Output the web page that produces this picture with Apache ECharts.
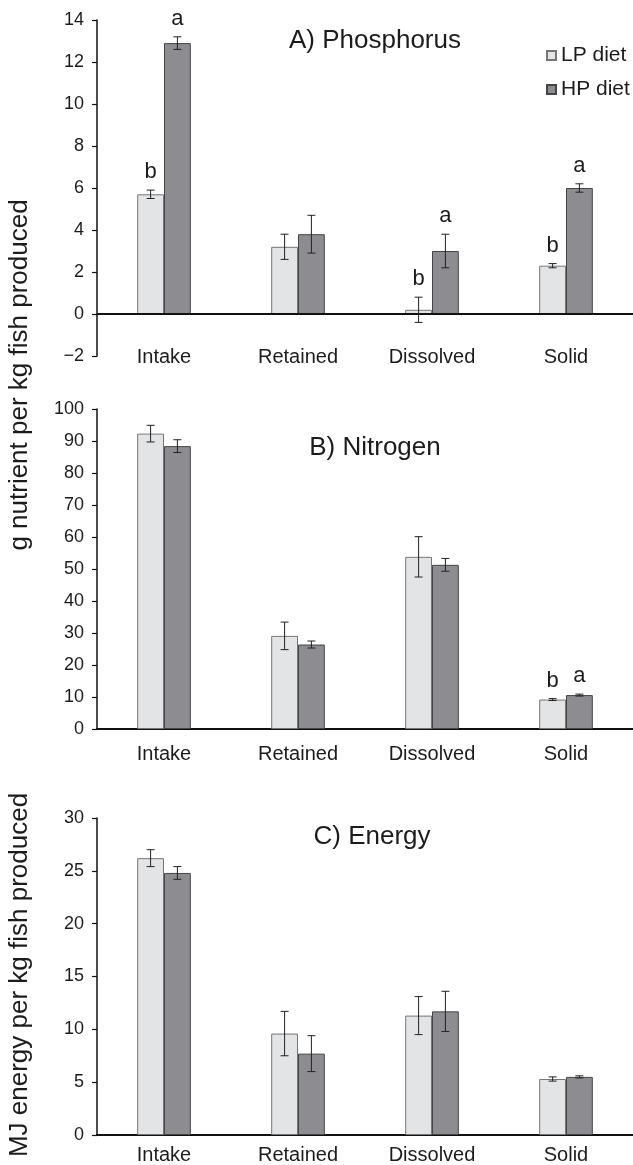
<!DOCTYPE html>
<html>
<head>
<meta charset="utf-8">
<script src="https://cdn.jsdelivr.net/npm/echarts@6/dist/echarts.min.js"></script>
<style>
html,body{margin:0;padding:0;background:#fff;}
#chart{width:633px;height:1165px;}
</style>
</head>
<body>
<div id="chart"></div>
<script>
var categories = ['Intake', 'Retained', 'Dissolved', 'Solid'];
var seriesNames = ['LP diet', 'HP diet'];

// A) Phosphorus
var pLP = [5.7, 3.2, 0.2, 2.3];
var pLPerr = [0.2, 0.6, 0.6, 0.1];
var pHP = [12.9, 3.8, 3.0, 6.0];
var pHPerr = [0.3, 0.9, 0.8, 0.2];
var pLPletters = ['b', '', 'b', 'b'];
var pHPletters = ['a', '', 'a', 'a'];

// B) Nitrogen
var nLP = [92.3, 29.1, 53.8, 9.2];
var nLPerr = [2.6, 4.3, 6.3, 0.3];
var nHP = [88.4, 26.4, 51.3, 10.6];
var nHPerr = [2.0, 1.1, 2.0, 0.3];
var nLPletters = ['', '', '', 'b'];
var nHPletters = ['', '', '', 'a'];

// C) Energy
var eLP = [26.2, 9.6, 11.3, 5.3];
var eLPerr = [0.8, 2.1, 1.8, 0.2];
var eHP = [24.8, 7.7, 11.7, 5.5];
var eHPerr = [0.6, 1.7, 1.9, 0.1];

var FONT = 'Liberation Sans, Arial, sans-serif';
var TXT = '#1c1c1c';
var LP_STYLE = {color: '#e3e4e6', borderColor: '#767676', borderWidth: 1};
var HP_STYLE = {color: '#8d8c91', borderColor: '#454545', borderWidth: 1};
var CAT_GAP = 0.6;

function errData(means, errs) {
  return means.map(function (m, i) { return [i, m - errs[i], m + errs[i]]; });
}

function errRender(side, letters) {
  return function (params, api) {
    var cat = api.value(0), lo = api.value(1), hi = api.value(2);
    var pHi = api.coord([cat, hi]);
    var pLo = api.coord([cat, lo]);
    var band = api.size([1, 0])[0];
    var bw = band * (1 - CAT_GAP) / 2;
    var x = pHi[0] + side * bw / 2;
    var cap = 4;
    var st = {stroke: '#222', lineWidth: 1};
    var children = [
      {type: 'line', shape: {x1: x, y1: pHi[1], x2: x, y2: pLo[1]}, style: st},
      {type: 'line', shape: {x1: x - cap, y1: pHi[1], x2: x + cap, y2: pHi[1]}, style: st},
      {type: 'line', shape: {x1: x - cap, y1: pLo[1], x2: x + cap, y2: pLo[1]}, style: st}
    ];
    var letter = letters ? letters[params.dataIndex] : '';
    if (letter) {
      children.push({
        type: 'text',
        style: {x: x, y: pHi[1] - 18, text: letter, fill: TXT,
                font: '22px ' + FONT, align: 'center', verticalAlign: 'middle'}
      });
    }
    return {type: 'group', children: children};
  };
}

var grids = [
  {left: 97, right: 0, top: 20, height: 336},
  {left: 97, right: 0, top: 409, height: 320},
  {left: 97, right: 0, top: 818, height: 319}
];
var labelMargins = [1, 25, 20];
var yRanges = [[-2, 14, 2], [0, 100, 10], [0, 30, 5]];

var xAxes = grids.map(function (g, i) {
  return {
    type: 'category', gridIndex: i, data: categories,
    axisLine: {show: i !== 0, onZero: false, lineStyle: {color: '#111', width: 2}},
    axisTick: {show: false},
    axisLabel: {color: TXT, fontSize: 20, fontFamily: FONT, margin: labelMargins[i], verticalAlign: 'middle'}
  };
});
var yAxes = grids.map(function (g, i) {
  return {
    type: 'value', gridIndex: i, min: yRanges[i][0], max: yRanges[i][1], interval: yRanges[i][2],
    axisLine: {show: true, lineStyle: {color: '#111', width: 1.5}},
    axisTick: {show: true, length: 5, lineStyle: {color: '#111', width: 1.2}},
    splitLine: {show: false},
    axisLabel: {color: TXT, fontSize: 18, fontFamily: FONT, margin: 13,
      formatter: function (v) { return v < 0 ? '\u2212' + Math.abs(v) : String(v); }}
  };
});

var panels = [
  [pLP, pLPerr, pHP, pHPerr, pLPletters, pHPletters],
  [nLP, nLPerr, nHP, nHPerr, nLPletters, nHPletters],
  [eLP, eLPerr, eHP, eHPerr, null, null]
];

var series = [];
panels.forEach(function (p, i) {
  var lpBar = {
    name: seriesNames[0], type: 'bar', xAxisIndex: i, yAxisIndex: i, data: p[0],
    barGap: 0, barCategoryGap: (CAT_GAP * 100) + '%', itemStyle: LP_STYLE, silent: true
  };
  if (i === 0) {
    lpBar.markLine = {
      silent: true, symbol: ['none', 'none'], label: {show: false},
      lineStyle: {color: '#111', width: 2, type: 'solid'},
      data: [{yAxis: 0}]
    };
  }
  series.push(lpBar);
  series.push({
    name: seriesNames[1], type: 'bar', xAxisIndex: i, yAxisIndex: i, data: p[2],
    barGap: 0, barCategoryGap: (CAT_GAP * 100) + '%', itemStyle: HP_STYLE, silent: true
  });
  series.push({
    type: 'custom', xAxisIndex: i, yAxisIndex: i, data: errData(p[0], p[1]),
    renderItem: errRender(-1, p[4]), z: 10, clip: false, silent: true
  });
  series.push({
    type: 'custom', xAxisIndex: i, yAxisIndex: i, data: errData(p[2], p[3]),
    renderItem: errRender(1, p[5]), z: 10, clip: false, silent: true
  });
});

var option = {
  animation: false,
  backgroundColor: '#fff',
  grid: grids,
  xAxis: xAxes,
  yAxis: yAxes,
  legend: {
    data: seriesNames, orient: 'vertical', left: 541, top: 40,
    icon: 'rect', itemWidth: 9, itemHeight: 9, itemGap: 13,
    textStyle: {fontSize: 21, fontFamily: FONT, color: TXT}
  },
  graphic: [
    {type: 'text', style: {x: 375, y: 41, text: 'A) Phosphorus', font: '26px ' + FONT, fill: TXT, align: 'center', verticalAlign: 'middle'}},
    {type: 'text', style: {x: 375, y: 448, text: 'B) Nitrogen', font: '26px ' + FONT, fill: TXT, align: 'center', verticalAlign: 'middle'}},
    {type: 'text', style: {x: 372, y: 837, text: 'C) Energy', font: '26px ' + FONT, fill: TXT, align: 'center', verticalAlign: 'middle'}},
    {type: 'text', x: 20, y: 375, rotation: Math.PI / 2,
      style: {x: 0, y: 0, text: 'g nutrient per kg fish produced', font: '26px ' + FONT, fill: TXT, align: 'center', verticalAlign: 'middle'}},
    {type: 'text', x: 20, y: 975, rotation: Math.PI / 2,
      style: {x: 0, y: 0, text: 'MJ energy per kg fish produced', font: '26px ' + FONT, fill: TXT, align: 'center', verticalAlign: 'middle'}}
  ],
  series: series
};

var chart = echarts.init(document.getElementById('chart'), null, {renderer: 'canvas'});
chart.setOption(option);
</script>
</body>
</html>
